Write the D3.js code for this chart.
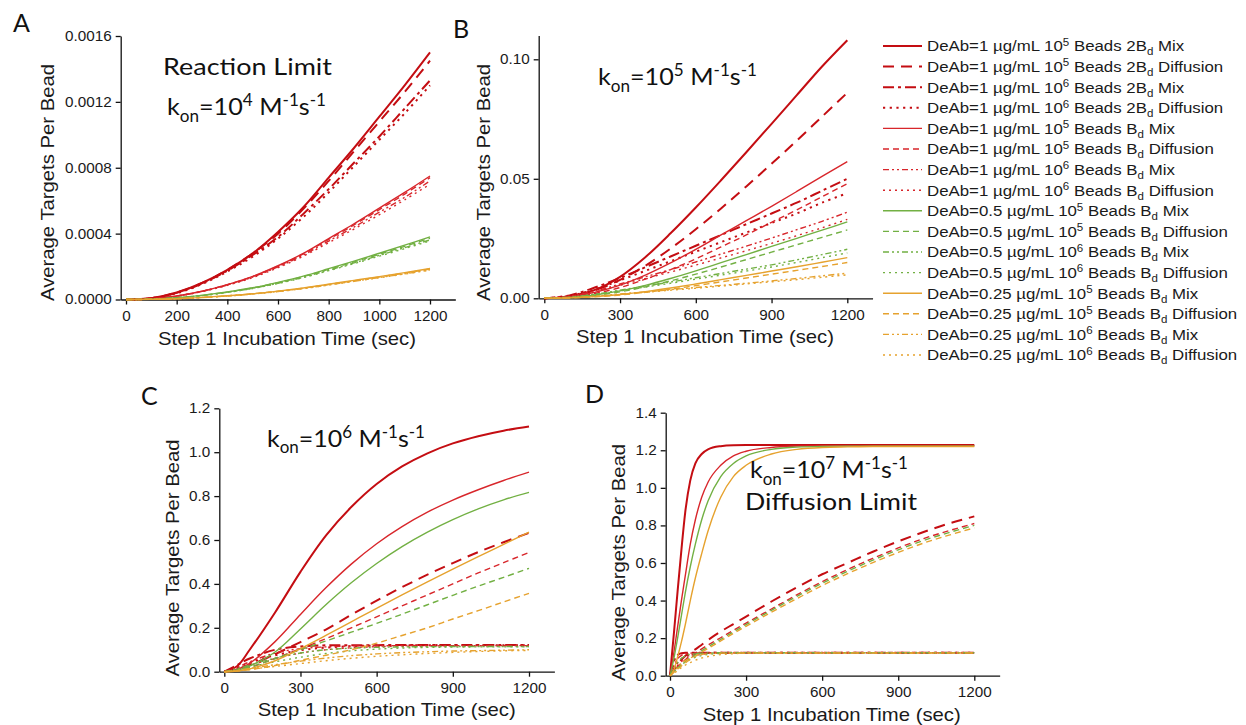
<!DOCTYPE html>
<html>
<head>
<meta charset="utf-8">
<script src="https://cdn.jsdelivr.net/npm/d3@7"></script>
<style>
  body { margin: 0; background: #fff; }
  svg { display: block; }
  .axis text { font-family: "Liberation Sans", Arial, sans-serif; font-size: 14px; fill: #1a1a1a; }
  .axis path, .axis line { stroke: #111; stroke-width: 1.3px; }
  .lbl { font-family: "Liberation Sans", Arial, sans-serif; font-size: 18.6px; fill: #1a1a1a; }
  .note { font-family: Lato, "Open Sans", sans-serif; fill: #111; }
  .legend text { font-family: "Liberation Sans", Arial, sans-serif; font-size: 15.3px; fill: #1a1a1a; }
</style>
</head>
<body>
<svg id="chart" width="1246" height="725"></svg>
<script>
// ---- series descriptions (legend order) ----
const legendDeAb = ["1","1","1","1","1","1","1","1","0.5","0.5","0.5","0.5","0.25","0.25","0.25","0.25"];
const legendBeadExp = ["5","5","6","6","5","5","6","6","5","5","6","6","5","5","6","6"];
const legendBd = ["2B","2B","2B","2B","B","B","B","B","B","B","B","B","B","B","B","B"];
const legendMode = ["Mix","Diffusion","Mix","Diffusion","Mix","Diffusion","Mix","Diffusion",
                    "Mix","Diffusion","Mix","Diffusion","Mix","Diffusion","Mix","Diffusion"];

// ---- time grids (sec) ----
const timesA = [0,100,200,300,400,500,600,700,800,900,1000,1100,1200];
const timesB = [0,100,200,300,400,500,600,700,800,900,1000,1100,1200];
const timesC = [0,50,100,200,300,400,500,600,700,800,900,1000,1100,1200];
const timesD = [0,15,30,45,60,80,100,125,150,200,250,300,400,500,600,700,800,900,1000,1100,1200];

// ---- average targets per bead, k_on = 1e4 ----
const valuesA = [
  [0,0.000008,0.000042,0.0001,0.00018,0.00028,0.00041,0.00056,0.00074,0.00092,0.00111,0.0013,0.0015],
  [0,0.000008,0.000042,0.0001,0.00018,0.00028,0.0004,0.00055,0.00072,0.0009,0.00108,0.00126,0.00145],
  [0,0.000008,0.00004,0.000097,0.000175,0.00027,0.00038,0.00052,0.00067,0.00083,0.00099,0.00116,0.00133],
  [0,0.000007,0.000038,0.000094,0.00017,0.00026,0.00037,0.0005,0.00065,0.00081,0.00097,0.00113,0.0013],
  [0,0.000004,0.000021,0.00005,0.00009,0.00014,0.000205,0.00028,0.00037,0.00046,0.000555,0.00065,0.00075],
  [0,0.000004,0.000021,0.00005,0.00009,0.00014,0.000203,0.000277,0.000365,0.000453,0.000546,0.00064,0.00074],
  [0,0.000004,0.00002,0.000049,0.000088,0.000136,0.000198,0.00027,0.000355,0.00044,0.00053,0.00062,0.00072],
  [0,0.000004,0.00002,0.000048,0.000086,0.000133,0.000193,0.000263,0.000345,0.000428,0.000515,0.000605,0.0007],
  [0,0.000002,0.000011,0.000025,0.000046,0.000071,0.000104,0.000142,0.000187,0.000233,0.000281,0.00033,0.00038],
  [0,0.000002,0.000011,0.000025,0.000045,0.00007,0.000102,0.000139,0.000183,0.000228,0.000275,0.000323,0.000372],
  [0,0.000002,0.00001,0.000024,0.000044,0.000068,0.000099,0.000135,0.000178,0.000222,0.000268,0.000315,0.000362],
  [0,0.000002,0.00001,0.000024,0.000043,0.000067,0.000097,0.000133,0.000175,0.000218,0.000263,0.000309,0.000356],
  [0,0.000001,0.000005,0.000013,0.000023,0.000035,0.000051,0.00007,0.000093,0.000116,0.000139,0.000163,0.000188],
  [0,0.000001,0.000005,0.000012,0.000022,0.000035,0.00005,0.000069,0.000091,0.000114,0.000137,0.00016,0.000185],
  [0,0.000001,0.000005,0.000012,0.000022,0.000034,0.000049,0.000067,0.000089,0.000111,0.000133,0.000156,0.00018],
  [0,0.000001,0.000005,0.000012,0.000021,0.000033,0.000048,0.000066,0.000088,0.00011,0.000132,0.000155,0.000178]
];

// ---- k_on = 1e5 ----
const valuesB = [
  [0,0.0008,0.0035,0.009,0.0172,0.0272,0.038,0.0494,0.0611,0.073,0.085,0.097,0.108],
  [0,0.0008,0.0034,0.0077,0.0136,0.0208,0.0289,0.0376,0.0468,0.0563,0.066,0.076,0.086],
  [0,0.0012,0.0045,0.0085,0.013,0.0175,0.022,0.0265,0.031,0.0355,0.04,0.045,0.05],
  [0,0.001,0.0038,0.0075,0.0115,0.0155,0.0195,0.0235,0.0275,0.0315,0.0355,0.04,0.044],
  [0,0.0006,0.0025,0.0055,0.0097,0.0148,0.0205,0.0265,0.0325,0.0385,0.0447,0.051,0.0572],
  [0,0.0005,0.002,0.0045,0.008,0.012,0.0165,0.0215,0.0265,0.0318,0.037,0.0425,0.048],
  [0,0.0009,0.003,0.006,0.009,0.012,0.0152,0.0185,0.0218,0.0252,0.0287,0.0322,0.036],
  [0,0.0008,0.0027,0.0054,0.0082,0.011,0.0139,0.0169,0.0199,0.023,0.0262,0.0295,0.033],
  [0,0.0003,0.0014,0.0031,0.0054,0.0083,0.0115,0.0149,0.0183,0.0217,0.0251,0.0285,0.032],
  [0,0.0003,0.0012,0.0027,0.0048,0.0073,0.0101,0.0131,0.0162,0.0193,0.0224,0.0255,0.0286],
  [0,0.0005,0.0017,0.0034,0.0051,0.0068,0.0086,0.0104,0.0122,0.014,0.0161,0.0183,0.0205],
  [0,0.0005,0.0016,0.0031,0.0047,0.0063,0.008,0.0097,0.0114,0.0131,0.015,0.017,0.019],
  [0,0.00016,0.0007,0.0016,0.0028,0.0043,0.006,0.0078,0.0096,0.0114,0.0132,0.0151,0.017],
  [0,0.00014,0.0006,0.0014,0.0025,0.0038,0.0053,0.0069,0.0085,0.0101,0.0117,0.0133,0.015],
  [0,0.0003,0.0009,0.0018,0.0027,0.0036,0.0045,0.0054,0.0063,0.0073,0.0083,0.0094,0.0105],
  [0,0.0003,0.0008,0.0016,0.0025,0.0034,0.0042,0.0051,0.006,0.0069,0.0078,0.0088,0.0098]
];

// ---- k_on = 1e6 ----
const valuesC = [
  [0,0.025,0.1,0.27,0.455,0.62,0.75,0.855,0.935,0.995,1.04,1.073,1.098,1.117],
  [0,0.012,0.03,0.08,0.135,0.192,0.259,0.324,0.385,0.442,0.495,0.545,0.59,0.632],
  [0,0.03,0.06,0.1,0.115,0.12,0.121,0.121,0.122,0.122,0.122,0.122,0.122,0.122],
  [0,0.018,0.04,0.075,0.098,0.11,0.116,0.119,0.12,0.121,0.121,0.121,0.121,0.121],
  [0,0.01,0.038,0.137,0.261,0.382,0.49,0.583,0.661,0.727,0.782,0.829,0.871,0.909],
  [0,0.007,0.02,0.06,0.105,0.15,0.2,0.25,0.3,0.35,0.4,0.45,0.497,0.543],
  [0,0.02,0.045,0.085,0.105,0.113,0.117,0.118,0.119,0.119,0.119,0.119,0.119,0.119],
  [0,0.013,0.03,0.06,0.085,0.1,0.109,0.114,0.116,0.117,0.118,0.118,0.118,0.118],
  [0,0.006,0.026,0.09,0.195,0.305,0.405,0.493,0.57,0.636,0.693,0.742,0.783,0.817],
  [0,0.007,0.02,0.06,0.1,0.14,0.18,0.22,0.262,0.305,0.348,0.39,0.43,0.471],
  [0,0.013,0.03,0.062,0.085,0.1,0.107,0.111,0.113,0.114,0.115,0.115,0.115,0.115],
  [0,0.01,0.022,0.045,0.066,0.083,0.095,0.103,0.108,0.111,0.112,0.113,0.113,0.113],
  [0,0.003,0.013,0.05,0.105,0.165,0.227,0.289,0.35,0.409,0.467,0.524,0.58,0.636],
  [0,0.003,0.009,0.028,0.052,0.075,0.1,0.13,0.165,0.2,0.24,0.278,0.318,0.357],
  [0,0.006,0.015,0.032,0.048,0.062,0.073,0.081,0.087,0.091,0.094,0.096,0.098,0.1],
  [0,0.005,0.011,0.024,0.037,0.05,0.061,0.07,0.077,0.083,0.088,0.092,0.095,0.097]
];

// ---- k_on = 1e7 ----
const valuesD = [
  [0,0.22,0.45,0.67,0.87,1.04,1.13,1.18,1.205,1.222,1.227,1.228,1.228,1.228,1.228,1.228,1.228,1.228,1.228,1.228,1.228],
  [0,0.03,0.06,0.085,0.105,0.125,0.14,0.165,0.19,0.235,0.275,0.315,0.395,0.47,0.54,0.6,0.66,0.715,0.765,0.81,0.848],
  [0,0.075,0.11,0.12,0.122,0.122,0.122,0.122,0.122,0.122,0.122,0.122,0.122,0.122,0.122,0.122,0.122,0.122,0.122,0.122,0.122],
  [0,0.04,0.07,0.09,0.1,0.11,0.116,0.119,0.121,0.122,0.122,0.122,0.122,0.122,0.122,0.122,0.122,0.122,0.122,0.122,0.122],
  [0,0.12,0.26,0.4,0.53,0.7,0.83,0.95,1.03,1.12,1.17,1.195,1.215,1.222,1.225,1.225,1.225,1.225,1.225,1.225,1.225],
  [0,0.025,0.048,0.068,0.085,0.105,0.122,0.143,0.163,0.202,0.242,0.28,0.355,0.43,0.5,0.565,0.625,0.68,0.73,0.772,0.81],
  [0,0.05,0.09,0.108,0.116,0.12,0.121,0.122,0.122,0.122,0.122,0.122,0.122,0.122,0.122,0.122,0.122,0.122,0.122,0.122,0.122],
  [0,0.03,0.055,0.075,0.088,0.1,0.108,0.114,0.118,0.121,0.122,0.122,0.122,0.122,0.122,0.122,0.122,0.122,0.122,0.122,0.122],
  [0,0.09,0.2,0.32,0.44,0.58,0.7,0.83,0.93,1.06,1.13,1.17,1.205,1.217,1.221,1.222,1.222,1.222,1.222,1.222,1.222],
  [0,0.022,0.042,0.06,0.076,0.095,0.112,0.133,0.153,0.193,0.233,0.272,0.348,0.422,0.492,0.556,0.615,0.67,0.72,0.762,0.8],
  [0,0.035,0.07,0.092,0.105,0.114,0.118,0.12,0.121,0.122,0.122,0.122,0.122,0.122,0.122,0.122,0.122,0.122,0.122,0.122,0.122],
  [0,0.02,0.04,0.058,0.072,0.087,0.098,0.107,0.113,0.119,0.121,0.122,0.122,0.122,0.122,0.122,0.122,0.122,0.122,0.122,0.122],
  [0,0.03,0.1,0.18,0.27,0.4,0.52,0.65,0.77,0.95,1.06,1.12,1.18,1.205,1.215,1.218,1.22,1.22,1.22,1.22,1.22],
  [0,0.018,0.035,0.052,0.068,0.087,0.104,0.125,0.145,0.185,0.225,0.263,0.338,0.41,0.48,0.543,0.602,0.656,0.706,0.748,0.787],
  [0,0.02,0.045,0.065,0.08,0.095,0.105,0.113,0.117,0.12,0.121,0.121,0.121,0.121,0.121,0.121,0.121,0.121,0.121,0.121,0.121],
  [0,0.012,0.028,0.043,0.056,0.07,0.082,0.094,0.102,0.112,0.117,0.12,0.121,0.121,0.121,0.121,0.121,0.121,0.121,0.121,0.121]
];

// ---- axis ticks ----
const ticksXA = [0,200,400,600,800,1000,1200];
const ticksX = [0,300,600,900,1200];
const ticksYA = [0,0.0004,0.0008,0.0012,0.0016];
const ticksYB = [0,0.05,0.10];
const ticksYC = [0,0.2,0.4,0.6,0.8,1.0,1.2];
const ticksYD = [0,0.2,0.4,0.6,0.8,1.0,1.2,1.4];

// ---- line styles per series ----
const RED2 = "#c40d12", RED = "#d8262b", GREEN = "#72b043", ORANGE = "#e6a22e";
const seriesColor = [RED2,RED2,RED2,RED2,RED,RED,RED,RED,GREEN,GREEN,GREEN,GREEN,ORANGE,ORANGE,ORANGE,ORANGE];
const seriesWidth = [2,2,2,2,1.4,1.4,1.4,1.4,1.4,1.4,1.4,1.4,1.4,1.4,1.4,1.4];
const thickDash = [null, "11,7", "11,4,3,4", "2.2,4.5"];
const thinDash = [null, "6,4", "6,3,2,3,2,3", "2,4"];
const seriesDash = d3.range(16).map(i => (i < 4 ? thickDash : thinDash)[i % 4]);

const svg = d3.select("#chart");

// rich text with sub/superscripts: parts = [[text, "n"|"sub"|"sup"], ...]
function richText(g, x, y, parts, size, cls) {
  const t = g.append("text").attr("class", cls).attr("x", x).attr("y", y).style("font-size", size + "px");
  let off = 0;
  parts.forEach(([s, kind]) => {
    const target = kind === "sup" ? -size * 0.38 : kind === "sub" ? size * 0.28 : 0;
    const ts = t.append("tspan").attr("dy", target - off).text(s);
    if (kind !== "n") ts.style("font-size", (size * 0.68) + "px");
    off = target;
  });
  return t;
}

// widen glyphs horizontally by factor k (the figure's type runs wide)
function widen(sel, k) {
  sel.each(function () {
    const w = this.getComputedTextLength();
    d3.select(this).attr("textLength", w * k).attr("lengthAdjust", "spacingAndGlyphs");
  });
}

const panels = [
  { letter: "A", lx: 13, ly: 32, times: timesA, values: valuesA, curve: d3.curveCatmullRom.alpha(0.5),
    x0: 126, x1200: 430, axisX: 120.7, yBase: 299.5, yTop: 36, yMax: 0.0016,
    yTicks: ticksYA, yFmt: d3.format(".4f"), xTicks: ticksXA,
    ylx: 53.5, yly: 182.5, xlx: 287, xly: 344.5 },
  { letter: "B", lx: 453, ly: 38, times: timesB, values: valuesB, curve: d3.curveCatmullRom.alpha(0.5),
    x0: 544.3, x1200: 847.3, axisX: 538.7, yBase: 298.3, yTop: 35.4, yMax: 0.11,
    yTicks: ticksYB, yFmt: d3.format(".2f"), xTicks: ticksX,
    ylx: 489.6, yly: 182.5, xlx: 705, xly: 343 },
  { letter: "C", lx: 141, ly: 405, times: timesC, values: valuesC, curve: d3.curveCatmullRom.alpha(0.5),
    x0: 224.3, x1200: 529, axisX: 219.3, yBase: 671.7, yTop: 408.3, yMax: 1.2,
    yTicks: ticksYC, yFmt: d3.format(".1f"), xTicks: ticksX,
    ylx: 179, yly: 558, xlx: 386.7, xly: 715.5 },
  { letter: "D", lx: 585, ly: 403, times: timesD, values: valuesD, curve: d3.curveMonotoneX,
    x0: 670, x1200: 974.3, axisX: 665.7, yBase: 675.7, yTop: 412.7, yMax: 1.4,
    yTicks: ticksYD, yFmt: d3.format(".1f"), xTicks: ticksX,
    ylx: 624.6, yly: 562.5, xlx: 831.7, xly: 721 }
];

panels.forEach(p => {
  const g = svg.append("g");
  const base = d3.scaleLinear().domain([0, 1200]).range([p.x0, p.x1200]);
  const x = d3.scaleLinear().domain([base.invert(p.axisX), 1300]).range([p.axisX, base(1300)]);
  const y = d3.scaleLinear().domain([0, p.yMax]).range([p.yBase, p.yTop]);

  g.append("g").attr("class", "axis").attr("transform", `translate(0,${p.yBase})`)
    .call(d3.axisBottom(x).tickValues(p.xTicks).tickFormat(d3.format("d")).tickSize(5).tickSizeOuter(0).tickPadding(6.5));
  g.append("g").attr("class", "axis").attr("transform", `translate(${p.axisX},0)`)
    .call(d3.axisLeft(y).tickValues(p.yTicks).tickFormat(p.yFmt).tickSize(5).tickSizeOuter(0).tickPadding(4));

  const line = d3.line().curve(p.curve);
  p.values.forEach((vals, i) => {
    const pts = vals.map((v, k) => [x(p.times[k]), y(v)]);
    g.append("path").attr("d", line(pts)).attr("fill", "none")
      .attr("stroke", seriesColor[i]).attr("stroke-width", seriesWidth[i])
      .attr("stroke-dasharray", seriesDash[i]).attr("stroke-linejoin", "round");
  });

  g.append("text").attr("class", "lbl").attr("text-anchor", "middle")
    .attr("transform", `translate(${p.ylx},${p.yly}) rotate(-90)`).text("Average Targets Per Bead");
  g.append("text").attr("class", "lbl").attr("text-anchor", "middle")
    .attr("x", p.xlx).attr("y", p.xly).text("Step 1 Incubation Time (sec)");
  g.append("text").attr("class", "note").attr("x", p.lx).attr("y", p.ly)
    .style("font-size", "25px").text(p.letter);
});

// panel annotations
const kon = e => [["k","n"],["on","sub"],["=10","n"],[e,"sup"],[" M","n"],["-1","sup"],["s","n"],["-1","sup"]];
const notes = [];
notes.push([svg.append("text").attr("class", "note").attr("x", 163).attr("y", 75).style("font-size", "23.5px").text("Reaction Limit"), 169]);
notes.push([richText(svg, 167, 115, kon("4"), 24, "note"), 159]);
notes.push([richText(svg, 598, 85, kon("5"), 24, "note"), 159]);
notes.push([richText(svg, 267, 446.7, kon("6"), 24, "note"), 158]);
notes.push([richText(svg, 750, 478, kon("7"), 24, "note"), 158]);
notes.push([svg.append("text").attr("class", "note").attr("x", 745).attr("y", 510).style("font-size", "23.5px").text("Diffusion Limit"), 172]);
notes.forEach(([t, w]) => t.attr("textLength", w).attr("lengthAdjust", "spacingAndGlyphs"));

// legend
const lg = svg.append("g").attr("class", "legend");
legendMode.forEach((m, i) => {
  const yy = 46 + i * 20.6;
  lg.append("line").attr("x1", 883).attr("x2", 922).attr("y1", yy).attr("y2", yy)
    .attr("stroke", seriesColor[i]).attr("stroke-width", seriesWidth[i])
    .attr("stroke-dasharray", seriesDash[i]);
  const t = lg.append("text").attr("x", 927).attr("y", yy + 5.3);
  t.append("tspan").text(`DeAb=${legendDeAb[i]} µg/mL 10`);
  t.append("tspan").attr("dy", -5.5).style("font-size", "10.5px").text(legendBeadExp[i]);
  t.append("tspan").attr("dy", 5.5).text(` Beads ${legendBd[i]}`);
  t.append("tspan").attr("dy", 4).style("font-size", "10.5px").text("d");
  t.append("tspan").attr("dy", -4).text(` ${m}`);
});

widen(svg.selectAll(".axis text"), 1.09);
widen(svg.selectAll(".lbl"), 1.09);
widen(lg.selectAll("text"), 1.1);
</script>
</body>
</html>
